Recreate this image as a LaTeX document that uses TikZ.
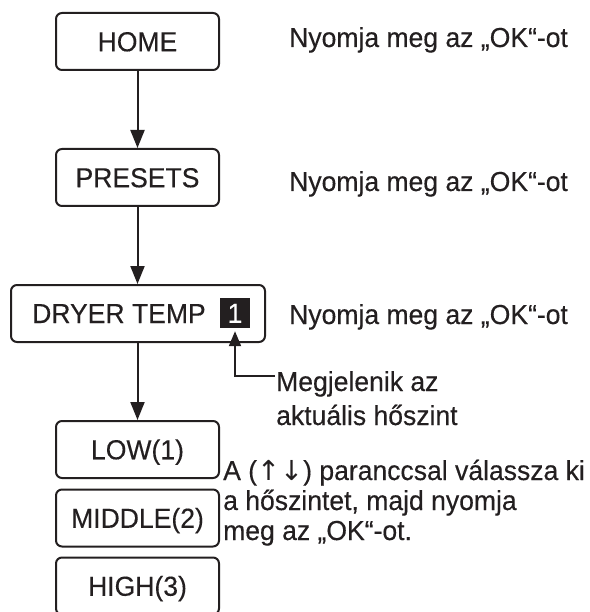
\documentclass[tikz,border=0pt]{standalone}
\usepackage{fontspec}
\setmainfont{Liberation Sans}[FakeStretch=0.965, FakeBold=0.3]
\newfontfamily\arrowfont{DejaVu Sans}
\usetikzlibrary{arrows.meta}
\definecolor{ink}{RGB}{35,31,32}
\tikzset{
  box/.style={draw=ink, line width=2pt, rounded corners=6pt, minimum width=163pt,
    minimum height=57pt, inner sep=0pt, text height=19.5pt, text depth=0pt, text=ink},
  lbl/.style={anchor=base west, inner sep=0pt, text=ink},
  conn/.style={draw=ink, line width=2pt, -{Triangle[length=18pt,width=14pt]}},
  smallconn/.style={draw=ink, line width=2pt, -{Triangle[length=15pt,width=12pt]}},
}
\begin{document}
\begin{tikzpicture}[x=1pt, y=-1pt, font=\fontsize{27.5}{30}\selectfont]
\useasboundingbox (0,0) rectangle (589,612);
\clip (0,0) rectangle (589,612);
% boxes
\node[box] (home) at (137.5,41.5) {HOME};
\node[box] (presets) at (137.5,177.5) {PRESETS};
\node[box, minimum width=254pt] (dryer) at (138,313.5) {};
\node[lbl] (dt) at (32,323) {DRYER TEMP};
\node[fill=ink, text=white, minimum width=30pt, minimum height=30pt, inner sep=0pt,
      text height=19.5pt, text depth=0pt] (one) at (235,313) {1};
\node[box] (low) at (137.5,449.5) {LOW(1)};
\node[box] (middle) at (137.5,518) {MIDDLE(2)};
\node[box] (high) at (137.5,586) {HIGH(3)};
% connectors
\draw[conn] (home) -- (presets);
\draw[conn] (presets) -- (presets |- dryer.north);
\draw[conn] (dryer.south -| low.north) -- (low);
% right texts
\node[lbl] (n1) at (289,47) {Nyomja meg az „OK“-ot};
\node[lbl] (n2) at (289,191) {Nyomja meg az „OK“-ot};
\node[lbl] (n3) at (289,324) {Nyomja meg az „OK“-ot};
\node[lbl] (m1) at (276,391) {Megjelenik az};
\node[lbl] (m2) at (276,425) {aktuális hőszint};
\coordinate (mc) at (275,376);
\draw[smallconn, shorten >=3pt] (mc) -| (one.south);
\node[lbl] (a1) at (223,480) {A ({\arrowfont ↑↓}) paranccsal válassza ki};
\node[lbl] (a2) at (223,510) {a hőszintet, majd nyomja};
\node[lbl] (a3) at (223,540) {meg az „OK“-ot.};
\end{tikzpicture}
\end{document}
